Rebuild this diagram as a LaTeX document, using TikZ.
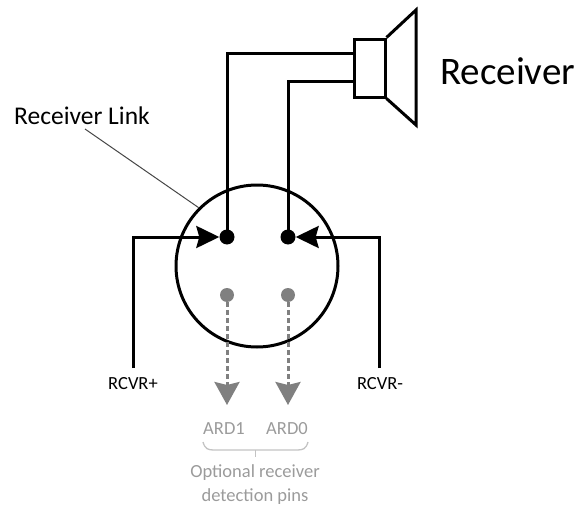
\documentclass[tikz,border=0pt]{standalone}
\usepackage{fontspec}
\setmainfont{Carlito}
\usetikzlibrary{arrows.meta}
\definecolor{pingrey}{RGB}{128,128,128}
\definecolor{lblgrey}{RGB}{155,155,155}
\definecolor{bracegrey}{RGB}{195,195,195}
\definecolor{leadgrey}{RGB}{70,70,70}
\tikzset{
  wire/.style={line width=3pt, black},
  pin/.style={circle, fill=black, inner sep=0pt, minimum size=15pt},
  optpin/.style={circle, fill=pingrey, inner sep=0pt, minimum size=14pt},
  blackarrow/.style={wire, -{Stealth[length=23pt,width=22pt,inset=3pt]}},
  greyarrow/.style={line width=3pt, pingrey, dash pattern=on 5pt off 3pt, -{Stealth[length=23pt,width=25pt,inset=3pt]}},
  smalllbl/.style={font=\fontsize{18.5pt}{24pt}\selectfont, inner sep=0pt},
}
\begin{document}
\begin{tikzpicture}[x=1pt,y=-1pt]
\useasboundingbox (0,0) rectangle (574,506);
% connector circle
\node[circle, draw, line width=3pt, minimum size=162pt, inner sep=0pt] (conn) at (257,266) {};
% pins
\node[pin] (p1) at (227,237) {};
\node[pin] (p2) at (288,237) {};
\node[optpin] (g1) at (227,295) {};
\node[optpin] (g2) at (288,295) {};
% speaker
\node[rectangle, draw, line width=3pt, minimum width=31pt, minimum height=58pt, inner sep=0pt] (box) at (369.5,68) {};
\draw[line width=3pt, line join=miter] (box.north east) -- (416,10) -- (416,125) -- (box.south east);
\coordinate (s1) at (354,53);
\coordinate (s2) at (354,81);
\draw[wire] (p1.center) |- (s1);
\draw[wire] (p2.center) |- (s2);
% RCVR wires
\coordinate (rp) at (133,368);
\coordinate (rm) at (379,368);
\draw[blackarrow] (rp) |- (p1);
\draw[blackarrow] (rm) |- (p2);
\node[smalllbl] (rpl) at (133,384) {RCVR+};
\node[smalllbl] (rml) at (380,384) {RCVR-};
% optional detection arrows
\coordinate (a1) at (227,405);
\coordinate (a2) at (288,405);
\draw[greyarrow] (g1) -- (a1);
\draw[greyarrow] (g2) -- (a2);
\node[smalllbl, text=lblgrey] (ard1) at (224,429) {ARD1};
\node[smalllbl, text=lblgrey] (ard0) at (287,429) {ARD0};
\draw[bracegrey, line width=1.3pt] (203,442) .. controls (205,449) and (208,450) .. (214,450) -- (297,450) .. controls (303,450) and (306,449) .. (308,442);
\draw[bracegrey, line width=1.3pt] (255.5,450) -- (255.5,457);
\node[smalllbl, text=lblgrey, align=center] (opt) at (255,485) {Optional receiver\\detection pins};
% labels
\node[anchor=west, inner sep=0pt, font=\fontsize{25.5pt}{30pt}\selectfont] (rl) at (14,116) {Receiver Link};
\coordinate (lead) at (85,129);
\draw[leadgrey, line width=1pt] (lead) -- (conn.135);
\node[anchor=west, inner sep=0pt, font=\fontsize{39pt}{44pt}\selectfont] (rec) at (440,71) {Receiver};
\end{tikzpicture}
\end{document}
